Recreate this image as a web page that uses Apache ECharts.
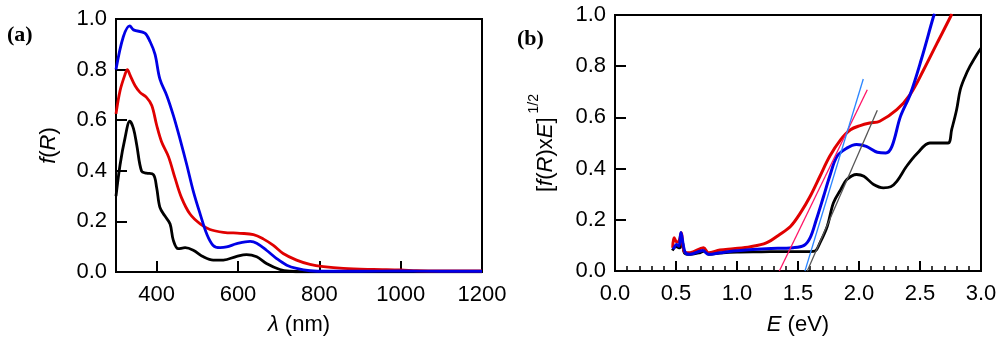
<!DOCTYPE html>
<html>
<head>
<meta charset="utf-8">
<script src="https://cdn.jsdelivr.net/npm/echarts@6/dist/echarts.min.js"></script>
<style>
html,body{margin:0;padding:0;background:#fff;}
#chart{width:1000px;height:341px;}
</style>
</head>
<body>
<div id="chart"></div>
<script>
// ---------- Panel (a): f(R) vs wavelength ----------
const aBlueX = [300,318,334,343,371,384,396,408,425,441,457,474,490,507,523,539,556,572,597,630,646,670,695,720,744,777,820,900,1000,1100,1200];
const aBlueY = [0.80,0.93,0.973,0.957,0.944,0.91,0.86,0.762,0.697,0.619,0.528,0.424,0.32,0.229,0.151,0.105,0.096,0.099,0.112,0.121,0.114,0.086,0.053,0.027,0.014,0.005,0.003,0.003,0.004,0.003,0.003];
const aRedX = [300,310,322,328,334,347,359,375,388,400,412,429,445,461,482,507,531,564,605,638,662,687,711,744,777,810,859,933,1000,1040,1100,1200];
const aRedY = [0.625,0.717,0.78,0.80,0.78,0.736,0.71,0.69,0.658,0.58,0.515,0.456,0.372,0.294,0.229,0.19,0.168,0.157,0.153,0.148,0.131,0.105,0.073,0.047,0.03,0.021,0.014,0.01,0.008,0.005,0.004,0.004];
const aBlackX = [300,310,322,334,343,351,363,375,392,400,408,420,433,441,453,470,490,515,539,564,597,621,646,670,703,728,760,900,1200];
const aBlackY = [0.30,0.424,0.528,0.596,0.567,0.502,0.398,0.391,0.385,0.333,0.255,0.222,0.19,0.125,0.092,0.096,0.086,0.06,0.047,0.047,0.062,0.069,0.06,0.034,0.01,0.003,0.001,0.001,0.001];
const aXLabels = [400,600,800,1000,1200];
const aXTicks = [400,600,800,1000];

// ---------- Panel (b): [f(R)xE]^1/2 vs E ----------
const bBlackX = [0.47,0.50,0.53,0.55,0.57,0.62,0.70,0.73,0.77,0.86,1.0,1.2,1.4,1.6,1.64,1.68,1.74,1.79,1.85,1.90,1.98,2.04,2.12,2.20,2.26,2.31,2.39,2.48,2.58,2.64,2.73,2.76,2.80,2.83,2.87,2.91,2.965,3.0];
const bBlackY = [0.08,0.095,0.09,0.12,0.07,0.065,0.072,0.078,0.065,0.07,0.074,0.075,0.076,0.076,0.078,0.11,0.175,0.266,0.318,0.357,0.377,0.37,0.338,0.325,0.329,0.35,0.409,0.461,0.50,0.50,0.50,0.553,0.63,0.708,0.76,0.80,0.845,0.87];
const bRedX = [0.473,0.484,0.506,0.525,0.544,0.566,0.615,0.725,0.766,0.86,0.97,1.11,1.24,1.35,1.44,1.52,1.60,1.68,1.76,1.85,1.93,2.01,2.09,2.17,2.31,2.42,2.53,2.64,2.75,2.76];
const bRedY = [0.091,0.13,0.113,0.117,0.149,0.078,0.071,0.091,0.071,0.082,0.087,0.095,0.11,0.143,0.175,0.227,0.292,0.37,0.448,0.513,0.552,0.568,0.578,0.585,0.63,0.69,0.786,0.89,0.993,1.005];
const bBlueX = [0.478,0.506,0.525,0.54,0.574,0.615,0.70,0.72,0.766,0.86,0.97,1.24,1.46,1.55,1.60,1.65,1.71,1.76,1.82,1.90,1.98,2.06,2.15,2.22,2.27,2.34,2.42,2.51,2.61,2.62];
const bBlueY = [0.085,0.104,0.097,0.15,0.074,0.065,0.078,0.08,0.065,0.071,0.078,0.087,0.091,0.10,0.13,0.20,0.292,0.37,0.448,0.48,0.494,0.487,0.464,0.461,0.487,0.604,0.69,0.825,0.993,1.005];
const tanPinkX = [1.347,2.068];
const tanPinkY = [0.0,0.708];
const tanBlueX = [1.557,2.035];
const tanBlueY = [0.0,0.75];
const tanGrayX = [1.576,2.15];
const tanGrayY = [0.0,0.628];

const zip = (xs, ys) => xs.map((x, i) => [x, ys[i]]);

const FONT = 'Liberation Sans, Arial, Helvetica, sans-serif';
const FS = 22;
const lbl = {color:'#000', fontSize:FS, fontFamily:FONT};

function yAxisCfg(grid, name, nameRich, gap){
  return {
    type:'value', gridIndex:grid, min:0, max:1, interval:0.2,
    axisLine:{show:true, onZero:false, lineStyle:{color:'#000', width:2}},
    axisTick:{show:true, inside:true, length:11, lineStyle:{color:'#000', width:2}},
    axisLabel:Object.assign({margin:9, formatter:v=>v.toFixed(1)}, lbl),
    splitLine:{show:false},
    name:name, nameLocation:'middle', nameGap:gap, nameRotate:90,
    nameTextStyle:{color:'#000', fontSize:FS, fontFamily:FONT, rich:nameRich}
  };
}

const chart = echarts.init(document.getElementById('chart'), null, {renderer:'canvas'});
const lineS = (xi, yi, data, color, w) => ({
  type:'line', xAxisIndex:xi, yAxisIndex:yi, data:data, showSymbol:false, symbol:'none',
  smooth:0.35, lineStyle:{color:color, width:w}, silent:true, animation:false, clip:true
});
const straight = (xi, yi, data, color, w) => ({
  type:'line', xAxisIndex:xi, yAxisIndex:yi, data:data, showSymbol:false, symbol:'none',
  lineStyle:{color:color, width:w}, silent:true, animation:false
});

const richA = {
  i:{fontStyle:'italic', fontSize:FS, fontFamily:FONT, color:'#000'},
  n:{fontSize:FS, fontFamily:FONT, color:'#000'}
};
const richB = {
  i:{fontStyle:'italic', fontSize:FS, fontFamily:FONT, color:'#000', lineHeight:30, verticalAlign:'bottom'},
  n:{fontSize:FS, fontFamily:FONT, color:'#000', lineHeight:30, verticalAlign:'bottom'},
  sup:{fontSize:14, fontFamily:FONT, color:'#000', lineHeight:30, verticalAlign:'top', padding:[0,0,0,4]}
};

chart.setOption({
  animation:false,
  backgroundColor:'#fff',
  grid:[
    {left:116, top:19, width:366, height:256, show:true, borderColor:'#000', borderWidth:2, backgroundColor:'transparent'},
    {left:615, top:15, width:366, height:257, show:true, borderColor:'#000', borderWidth:2, backgroundColor:'transparent'}
  ],
  xAxis:[
    {type:'value', gridIndex:0, min:300, max:1200,
     axisLine:{show:true, onZero:false, lineStyle:{color:'#000', width:2}},
     axisTick:{show:true, inside:true, length:11, customValues:aXTicks, lineStyle:{color:'#000', width:2}},
     axisLabel:Object.assign({margin:12, customValues:aXLabels, showMaxLabel:true, formatter:v=>String(v)}, lbl),
     splitLine:{show:false},
     name:'{i|λ}{n| (nm)}', nameLocation:'middle', nameGap:42,
     nameTextStyle:{color:'#000', fontSize:FS, fontFamily:FONT, rich:richA}},
    {type:'value', gridIndex:1, min:0, max:3, interval:0.5,
     axisLine:{show:true, onZero:false, lineStyle:{color:'#000', width:2}},
     axisTick:{show:true, inside:true, length:10, lineStyle:{color:'#000', width:2}},
     minorTick:{show:true, splitNumber:5, length:5, lineStyle:{color:'#000', width:1.5}},
     axisLabel:Object.assign({margin:12, formatter:v=>v.toFixed(1)}, lbl),
     splitLine:{show:false}, minorSplitLine:{show:false},
     name:'{i|E}{n| (eV)}', nameLocation:'middle', nameGap:43,
     nameTextStyle:{color:'#000', fontSize:FS, fontFamily:FONT, rich:richA}}
  ],
  yAxis:[
    yAxisCfg(0, '{i|f}{n|(}{i|R}{n|)}', richA, 56),
    yAxisCfg(1, '{n|[}{i|f}{n|(}{i|R}{n|)x}{i|E}{n|]}{sup|1/2}', richB, 58)
  ],
  graphic:[
    {type:'text', left:7, top:24, style:{text:'(a)', font:'bold 22px "Liberation Serif", "Times New Roman", serif', fill:'#000'}},
    {type:'text', left:517, top:28, style:{text:'(b)', font:'bold 22px "Liberation Serif", "Times New Roman", serif', fill:'#000'}}
  ],
  series:[
    lineS(0,0,zip(aBlackX,aBlackY),'#000',2.8),
    lineS(0,0,zip(aRedX,aRedY),'#e00000',2.8),
    lineS(0,0,zip(aBlueX,aBlueY),'#0000e6',2.8),
    lineS(1,1,zip(bBlackX,bBlackY),'#000',2.8),
    lineS(1,1,zip(bRedX,bRedY),'#e00000',3),
    lineS(1,1,zip(bBlueX,bBlueY),'#0000e6',3),
    straight(1,1,zip(tanPinkX,tanPinkY),'#ff1466',1.3),
    straight(1,1,zip(tanBlueX,tanBlueY),'#2b85ff',1.3),
    straight(1,1,zip(tanGrayX,tanGrayY),'#555',1.3)
  ]
});
</script>
</body>
</html>
